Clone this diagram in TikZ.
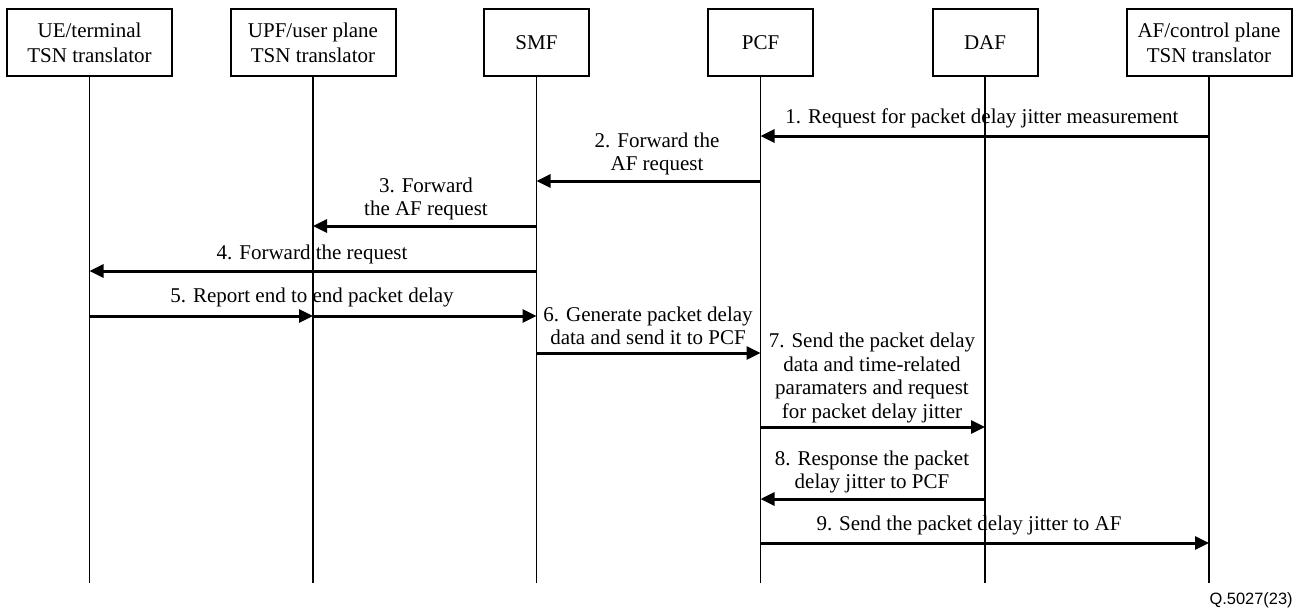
\documentclass[tikz,border=0pt]{standalone}
\usepackage{fontspec}
\setmainfont{Liberation Serif}
\newfontfamily\tagfont{Liberation Sans}
\usetikzlibrary{arrows.meta}
\tikzset{
  ent/.style={draw, line width=1pt, minimum height=33.5pt, align=center, inner sep=1pt,
              font=\fontsize{10.5}{12.5}\selectfont},
  wide/.style={ent, minimum width=82.5pt},
  narrow/.style={ent, minimum width=52.5pt},
  life/.style={line width=0.9pt},
  msg/.style={line width=1.5pt, -{Triangle[length=7pt,width=6.5pt]}},
  lbl/.style={align=center, inner sep=0pt, font=\fontsize{10.5}{11.7}\selectfont}
}
\begin{document}
\begin{tikzpicture}[x=0.5pt,y=-0.5pt]
\useasboundingbox (0,0) rectangle (1297,607);
% entities
\node[wide]   (ue)  at (89.5,42.5)  {UE/terminal\\TSN translator};
\node[wide]   (upf) at (313,42.5)   {UPF/user plane\\TSN translator};
\node[narrow] (smf) at (536.5,42.5) {SMF};
\node[narrow] (pcf) at (760.5,42.5) {PCF};
\node[narrow] (daf) at (985,42.5)   {DAF};
\node[wide]   (af)  at (1209,42.5)  {AF/control plane\\TSN translator};
% lifeline ends
\coordinate (bot) at (0,583);
\foreach \n in {ue,upf,smf,pcf,daf,af}
  \draw[life] (\n.south) -- (\n.south |- bot);
% message rows
\coordinate (y1) at (0,136);
\coordinate (y2) at (0,181);
\coordinate (y3) at (0,226);
\coordinate (y4) at (0,271);
\coordinate (y5) at (0,316);
\coordinate (y6) at (0,353);
\coordinate (y7) at (0,427);
\coordinate (y8) at (0,499);
\coordinate (y9) at (0,543);
% messages
\draw[msg] (af.south |- y1) -- (pcf.south |- y1);
\draw[msg] (pcf.south |- y2) -- (smf.south |- y2);
\draw[msg] (smf.south |- y3) -- (upf.south |- y3);
\draw[msg] (smf.south |- y4) -- (ue.south |- y4);
\draw[msg] (ue.south |- y5) -- (upf.south |- y5);
\draw[msg] (upf.south |- y5) -- (smf.south |- y5);
\draw[msg] (smf.south |- y6) -- (pcf.south |- y6);
\draw[msg] (pcf.south |- y7) -- (daf.south |- y7);
\draw[msg] (daf.south |- y8) -- (pcf.south |- y8);
\draw[msg] (pcf.south |- y9) -- (af.south |- y9);
% labels
\node[lbl] (l1) at (982,118) {1. Request for packet delay jitter measurement};
\node[lbl] (l2) at (657,154) {2. Forward the\\AF request};
\node[lbl] (l3) at (426,199) {3. Forward\\the AF request};
\node[lbl] (l4) at (312,254) {4. Forward the request};
\node[lbl] (l5) at (312,297) {5. Report end to end packet delay};
\node[lbl] (l6) at (648,326) {6. Generate packet delay\\data and send it to PCF};
\node[lbl] (l7) at (872,378) {7. Send the packet delay\\data and time-related\\paramaters and request\\for packet delay jitter};
\node[lbl] (l8) at (872,472) {8. Response the packet\\delay jitter to PCF};
\node[lbl] (l9) at (969,525) {9. Send the packet delay jitter to AF};
\node[anchor=east, inner sep=0pt, font=\tagfont\fontsize{8.2}{9}\selectfont] (tag) at (1293,600) {Q.5027(23)};
\end{tikzpicture}
\end{document}
